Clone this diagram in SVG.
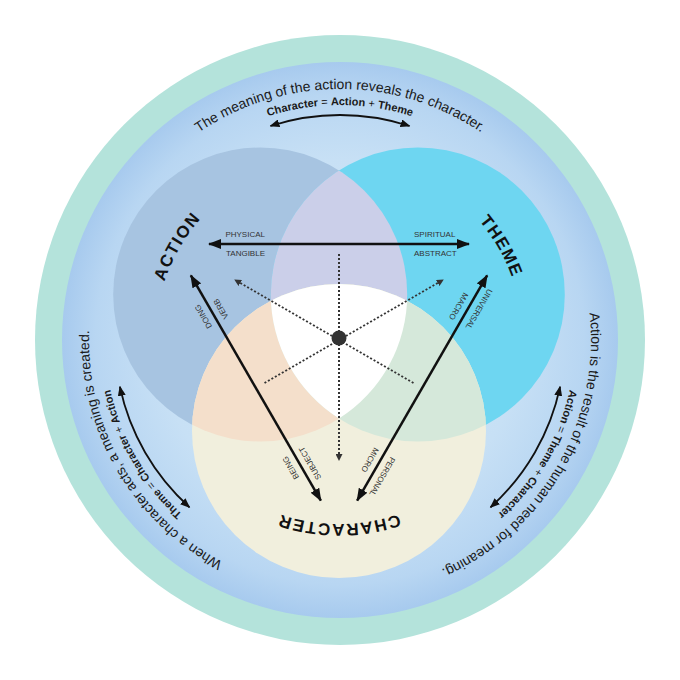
<svg xmlns="http://www.w3.org/2000/svg" width="680" height="680" viewBox="0 0 680 680">
<style>
text{font-family:"Liberation Sans",Arial,sans-serif;fill:#1a1a1a}
.outer{font-size:14px}
.sub{font-size:11px}
.sub .b{font-weight:bold}
.lbl{font-size:17px;font-weight:bold;letter-spacing:1.5px;fill:#111}
.sm{font-size:8px;fill:#333}
.arr{stroke:#111;stroke-width:2.5;fill:none}
.oarr{stroke:#111;stroke-width:1.8;fill:none}
.dot{stroke:#333;stroke-width:2;stroke-dasharray:2 2;fill:none}
</style>
<defs>
<radialGradient id="blueGrad" cx="340" cy="340" r="278" gradientUnits="userSpaceOnUse">
<stop offset="0" stop-color="#d6eaf8"/>
<stop offset="0.65" stop-color="#c7e0f5"/>
<stop offset="0.88" stop-color="#b8d6f2"/>
<stop offset="1" stop-color="#a7caee"/>
</radialGradient>
<clipPath id="clipA"><circle cx="260.2" cy="294.5" r="147"/></clipPath>
<clipPath id="clipT"><circle cx="417.8" cy="294.5" r="147"/></clipPath>
<clipPath id="clipAT" clip-path="url(#clipA)"><circle cx="417.8" cy="294.5" r="147"/></clipPath>
<marker id="ah" viewBox="0 0 13 10" refX="12" refY="5" markerWidth="13" markerHeight="10" markerUnits="userSpaceOnUse" orient="auto-start-reverse"><path d="M0,0 L13,5 L0,10 z" fill="#111"/></marker>
<marker id="ahs" viewBox="0 0 10 8" refX="9" refY="4" markerWidth="10" markerHeight="8" markerUnits="userSpaceOnUse" orient="auto-start-reverse"><path d="M0,0 L10,4 L0,8 z" fill="#111"/></marker>
<marker id="ahd" viewBox="0 0 7 7" refX="6" refY="3.5" markerWidth="7" markerHeight="7" markerUnits="userSpaceOnUse" orient="auto"><path d="M0,0 L7,3.5 L0,7 z" fill="#333"/></marker>
<path id="arcOuter" d="M 89,340 A 251 251 0 0 1 591,340"/>
<path id="arcSub" d="M 105,340 A 235 235 0 0 1 575,340"/>
<path id="arcLbl" d="M 155,340 A 184 184 0 0 1 523,340"/>
</defs>

<g id="rings">
<circle cx="340" cy="340" r="305" fill="#b4e3db"/>
<circle cx="340" cy="340" r="278" fill="url(#blueGrad)"/>
</g>

<g id="action">
<circle cx="260.2" cy="294.5" r="147" fill="#a7c4e1"/>
</g>
<g id="theme">
<circle cx="417.8" cy="294.5" r="147" fill="#6ed6f1"/>
</g>
<g id="character">
<circle cx="339" cy="431" r="147" fill="#f1efdd"/>
</g>
<g id="overlaps">
<circle cx="417.8" cy="294.5" r="147" fill="#cbcfe9" clip-path="url(#clipA)"/>
<circle cx="339" cy="431" r="147" fill="#f4dfcb" clip-path="url(#clipA)"/>
<circle cx="339" cy="431" r="147" fill="#d5e8da" clip-path="url(#clipT)"/>
<circle cx="339" cy="431" r="147" fill="#ffffff" clip-path="url(#clipAT)"/>
</g>

<g id="labels">
<text class="lbl" transform="rotate(-60 339 340)"><textPath href="#arcLbl" startOffset="50%" text-anchor="middle">ACTION</textPath></text>
<text class="lbl" transform="rotate(60 339 340)"><textPath href="#arcLbl" startOffset="50%" text-anchor="middle">THEME</textPath></text>
<text class="lbl" transform="rotate(180 339 340)"><textPath href="#arcLbl" startOffset="50%" text-anchor="middle">CHARACTER</textPath></text>
</g>

<g id="outer-top">
<text class="outer"><textPath href="#arcOuter" startOffset="50%" text-anchor="middle">The meaning of the action reveals the character.</textPath></text>
<text class="sub"><textPath href="#arcSub" startOffset="50%" text-anchor="middle"><tspan class="b">Character</tspan> = <tspan class="b">Action</tspan> + <tspan class="b">Theme</tspan></textPath></text>
</g>
<g id="outer-right" transform="rotate(120 340 340)">
<text class="outer"><textPath href="#arcOuter" startOffset="50%" text-anchor="middle">Action is the result of the human need for meaning.</textPath></text>
<text class="sub"><textPath href="#arcSub" startOffset="50%" text-anchor="middle"><tspan class="b">Action</tspan> = <tspan class="b">Theme</tspan> + <tspan class="b">Character</tspan></textPath></text>
</g>
<g id="outer-left" transform="rotate(240 340 340)">
<text class="outer"><textPath href="#arcOuter" startOffset="50%" text-anchor="middle">When a character acts, a meaning is created.</textPath></text>
<text class="sub"><textPath href="#arcSub" startOffset="50%" text-anchor="middle"><tspan class="b">Theme</tspan> = <tspan class="b">Character</tspan> + <tspan class="b">Action</tspan></textPath></text>
</g>

<g id="connectors">
<path class="oarr" d="M 270.47,126.01 A 225 225 0 0 1 409.53,126.01" marker-start="url(#ahs)" marker-end="url(#ahs)"/>
<path class="oarr" transform="rotate(120 340 340)" d="M 270.47,126.01 A 225 225 0 0 1 409.53,126.01" marker-start="url(#ahs)" marker-end="url(#ahs)"/>
<path class="oarr" transform="rotate(240 340 340)" d="M 270.47,126.01 A 225 225 0 0 1 409.53,126.01" marker-start="url(#ahs)" marker-end="url(#ahs)"/>

<line class="dot" x1="339" y1="340" x2="339" y2="252"/>
<line class="dot" x1="339" y1="340" x2="339" y2="252" transform="rotate(120 339 340)"/>
<line class="dot" x1="339" y1="340" x2="339" y2="252" transform="rotate(240 339 340)"/>
<line class="dot" x1="339" y1="340" x2="339" y2="460" marker-end="url(#ahd)"/>
<line class="dot" x1="339" y1="340" x2="339" y2="460" marker-end="url(#ahd)" transform="rotate(120 339 340)"/>
<line class="dot" x1="339" y1="340" x2="339" y2="460" marker-end="url(#ahd)" transform="rotate(240 339 340)"/>

<g id="arrow-action-theme">
<line class="arr" x1="209" y1="244" x2="469" y2="244" marker-start="url(#ah)" marker-end="url(#ah)"/>
<text class="sm" x="265" y="237" text-anchor="end">PHYSICAL</text>
<text class="sm" x="265" y="256" text-anchor="end">TANGIBLE</text>
<text class="sm" x="414" y="237">SPIRITUAL</text>
<text class="sm" x="414" y="256">ABSTRACT</text>
</g>
<g id="arrow-theme-character" transform="rotate(120 339 340)">
<line class="arr" x1="209" y1="244" x2="469" y2="244" marker-start="url(#ah)" marker-end="url(#ah)"/>
<text class="sm" x="265" y="237" text-anchor="end">UNIVERSAL</text>
<text class="sm" x="265" y="256" text-anchor="end">MACRO</text>
<text class="sm" x="414" y="237">PERSONAL</text>
<text class="sm" x="414" y="256">MICRO</text>
</g>
<g id="arrow-character-action" transform="rotate(240 339 340)">
<line class="arr" x1="209" y1="244" x2="469" y2="244" marker-start="url(#ah)" marker-end="url(#ah)"/>
<text class="sm" x="265" y="237" text-anchor="end">BEING</text>
<text class="sm" x="265" y="256" text-anchor="end">SUBJECT</text>
<text class="sm" x="414" y="237">DOING</text>
<text class="sm" x="414" y="256">VERB</text>
</g>
</g>

<g id="center">
<circle cx="339" cy="338" r="7.5" fill="#333"/>
</g>
</svg>
